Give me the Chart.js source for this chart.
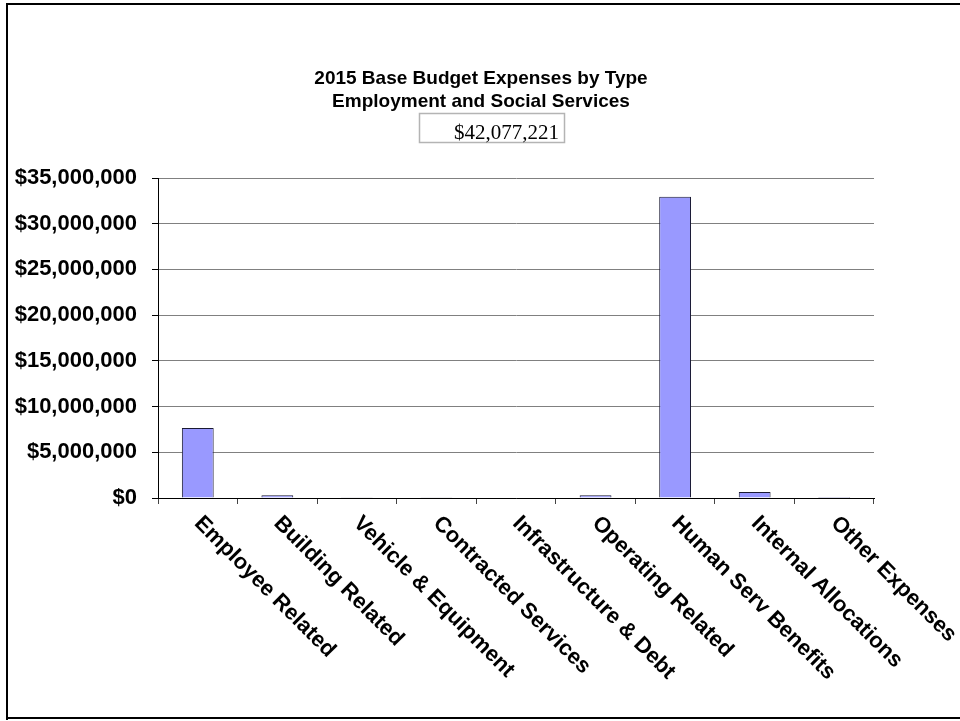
<!DOCTYPE html>
<html>
<head>
<meta charset="utf-8">
<script src="https://cdn.jsdelivr.net/npm/chart.js@4/dist/chart.umd.min.js"></script>
<style>
  html, body { margin: 0; padding: 0; background: #ffffff; }
  #wrap { position: relative; width: 960px; height: 721px; }
</style>
</head>
<body>
<div id="wrap"><canvas id="budgetChart" width="960" height="721"></canvas></div>
<script>
const titleLines = ["2015 Base Budget Expenses by Type", "Employment and Social Services"];
const totalLabel = "$42,077,221";

const categories = [
  "Employee Related",
  "Building Related",
  "Vehicle & Equipment",
  "Contracted Services",
  "Infrastructure & Debt",
  "Operating Related",
  "Human Serv Benefits",
  "Internal Allocations",
  "Other Expenses",
];
const expenses = [7660000, 300000, 70000, 80000, 60000, 290000, 32950000, 660000, 7221];

const yMax = 35000000;
const yStep = 5000000;

const moneyFormatter = new Intl.NumberFormat("en-US", {
  style: "currency",
  currency: "USD",
  maximumFractionDigits: 0,
});

const labelFont = "bold 22px 'Liberation Sans', Arial, sans-serif";

// frame, heading lines and the boxed total
const headerPlugin = {
  id: "header",
  beforeDraw(chart) {
    const ctx = chart.ctx;
    ctx.save();
    ctx.fillStyle = "#ffffff";
    ctx.fillRect(0, 0, chart.width, chart.height);
    ctx.fillStyle = "#000000";
    ctx.fillRect(6, 3, 960, 2);
    ctx.fillRect(6, 3, 2, 717);
    ctx.fillRect(6, 717, 960, 2);
    ctx.restore();
  },
  afterDraw(chart) {
    const ctx = chart.ctx;
    ctx.save();
    ctx.fillStyle = "#000000";
    ctx.textAlign = "center";
    ctx.textBaseline = "alphabetic";
    ctx.font = "bold 19px 'Liberation Sans', Arial, sans-serif";
    ctx.fillText(titleLines[0], 481, 84);
    ctx.fillText(titleLines[1], 481, 107);

    ctx.strokeStyle = "#b4b4b4";
    ctx.lineWidth = 1.5;
    ctx.strokeRect(419.5, 113.5, 145, 29);
    ctx.font = "21px 'Liberation Serif', 'Times New Roman', serif";
    ctx.textAlign = "right";
    ctx.fillText(totalLabel, 559, 139);
    ctx.restore();
  },
};

// category names run down-right from each slot
const slantLabels = {
  id: "slantLabels",
  afterDraw(chart) {
    const ctx = chart.ctx;
    const xScale = chart.scales.x;
    ctx.save();
    ctx.fillStyle = "#000000";
    ctx.font = labelFont;
    ctx.textAlign = "left";
    ctx.textBaseline = "middle";
    categories.forEach((name, i) => {
      const px = xScale.getPixelForValue(i);
      ctx.save();
      ctx.translate(px, 520);
      ctx.rotate(Math.PI / 4);
      ctx.fillText(name, 0, 0);
      ctx.restore();
    });
    ctx.restore();
  },
};

new Chart(document.getElementById("budgetChart"), {
  type: "bar",
  data: {
    labels: categories,
    datasets: [
      {
        data: expenses,
        backgroundColor: "#9999ff",
        borderColor: "#1a1a33",
        borderWidth: 1,
        barPercentage: 0.4,
        categoryPercentage: 1,
      },
    ],
  },
  options: {
    responsive: false,
    animation: false,
    layout: { padding: { top: 178, left: 10, right: 86, bottom: 0 } },
    plugins: {
      legend: { display: false },
      title: { display: false },
      tooltip: { enabled: false },
    },
    scales: {
      x: {
        offset: true,
        grid: {
          offset: true,
          drawOnChartArea: false,
          tickLength: 6,
          color: "#444444",
        },
        border: { color: "#000000", width: 1 },
        ticks: { display: false },
        afterFit(scale) {
          scale.height = 223;
        },
      },
      y: {
        min: 0,
        max: yMax,
        grid: {
          color: "#808080",
          tickLength: 6,
          tickColor: "#000000",
        },
        border: { color: "#000000", width: 1 },
        ticks: {
          stepSize: yStep,
          padding: 15,
          color: "#000000",
          font: { family: "'Liberation Sans', Arial, sans-serif", size: 22, weight: "bold" },
          callback: (v) => moneyFormatter.format(v),
        },
        afterFit(scale) {
          scale.width = 148;
        },
      },
    },
  },
  plugins: [headerPlugin, slantLabels],
});
</script>
</body>
</html>
